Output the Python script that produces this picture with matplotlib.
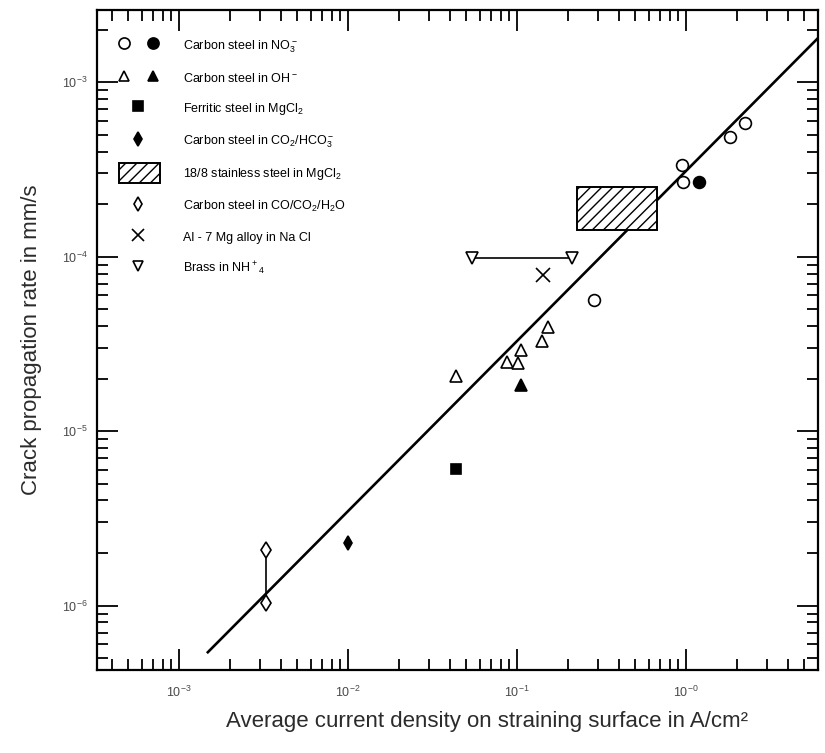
import numpy as np
import matplotlib.pyplot as plt
from matplotlib.lines import Line2D
from matplotlib.patches import Patch, Rectangle
from matplotlib.legend_handler import HandlerTuple, HandlerPatch
from matplotlib.ticker import FixedLocator, FixedFormatter, LogLocator, NullFormatter

plt.rcParams['mathtext.default'] = 'regular'
NARROW = ['Liberation Sans Narrow', 'Liberation Sans', 'DejaVu Sans']

# carbon steel in NO3- (open and filled circles)
no3_open_x = [0.95, 0.96, 1.82, 2.23, 0.286]
no3_open_y = [3.34e-4, 2.67e-4, 4.84e-4, 5.82e-4, 5.63e-5]
no3_fill_x = [1.19]
no3_fill_y = [2.67e-4]

# carbon steel in OH-
oh_open_x = [0.0435, 0.0873, 0.1014, 0.1057, 0.1406, 0.1525]
oh_open_y = [2.07e-5, 2.48e-5, 2.45e-5, 2.91e-5, 3.28e-5, 3.94e-5]
oh_fill_x = [0.1057]
oh_fill_y = [1.84e-5]

# ferritic steel in MgCl2
ferr_x = [0.0435]
ferr_y = [6.05e-6]

# carbon steel in CO2/HCO3-
hco3_x = [0.0100]
hco3_y = [2.28e-6]

# 18/8 stainless steel in MgCl2 (range box)
ss_x = [0.226, 0.673]
ss_y = [1.42e-4, 2.50e-4]

# carbon steel in CO/CO2/H2O (range)
co_x = [0.00327, 0.00327]
co_y = [2.08e-6, 1.03e-6]

# Al - 7 Mg alloy in NaCl
al_x = [0.1425]
al_y = [7.83e-5]

# brass in NH4+ (range)
brass_x = [0.0542, 0.211]
brass_y = [9.8e-5, 9.8e-5]

# overall trend line
fit_x = [1.48e-3, 6.04]
fit_y = [5.4e-7, 1.79e-3]

xticks = [1e-3, 1e-2, 1e-1, 1e0]
xticklabels = ['$10^{-3}$', '$10^{-2}$', '$10^{-1}$', '$10^{-0}$']
yticks = [1e-6, 1e-5, 1e-4, 1e-3]
yticklabels = ['$10^{-6}$', '$10^{-5}$', '$10^{-4}$', '$10^{-3}$']

legend_labels = [
    'Carbon steel in $NO_3^-$',
    'Carbon steel in OH$^-$',
    'Ferritic steel in MgCl$_2$',
    'Carbon steel in CO$_2$/HCO$_3^-$',
    '18/8 stainless steel in MgCl$_2$',
    'Carbon steel in CO/CO$_2$/H$_2$O',
    'Al - 7 Mg alloy in Na Cl',
    'Brass in NH$^+$$_4$',
]

fig = plt.figure(figsize=(8.25, 7.53), dpi=100)
ax = fig.add_axes([0.1176, 0.1102, 0.874, 0.8765])
ax.set_xscale('log')
ax.set_yscale('log')
ax.set_xlim(3.27e-4, 6.04)
ax.set_ylim(4.27e-7, 2.59e-3)

ax.plot(fit_x, fit_y, color='black', lw=1.9, zorder=2)

ax.add_patch(Rectangle((ss_x[0], ss_y[0]), ss_x[1] - ss_x[0], ss_y[1] - ss_y[0],
                       facecolor='white', edgecolor='black', lw=1.4,
                       hatch='///', zorder=3))

mk = dict(ls='none', mec='black', mew=1.2, zorder=4)
ax.plot(no3_open_x, no3_open_y, marker='o', ms=8.5, mfc='white', **mk)
ax.plot(no3_fill_x, no3_fill_y, marker='o', ms=8.5, mfc='black', **mk)
ax.plot(oh_open_x, oh_open_y, marker='^', ms=8, mfc='white', **mk)
ax.plot(oh_fill_x, oh_fill_y, marker='^', ms=8, mfc='black', **mk)
ax.plot(ferr_x, ferr_y, marker='s', ms=7.5, mfc='black', **mk)
ax.plot(hco3_x, hco3_y, marker='d', ms=7.5, mfc='black', **mk)
ax.plot(co_x, co_y, color='black', lw=1.2, zorder=3)
ax.plot(co_x, co_y, marker='d', ms=8, mfc='white', **mk)
ax.plot(al_x, al_y, marker='x', ms=10, **mk)
ax.plot(brass_x, brass_y, color='black', lw=1.2, zorder=3)
ax.plot(brass_x, brass_y, marker='v', ms=8, mfc='white', **mk)

# axes styling
for s in ax.spines.values():
    s.set_linewidth(1.6)
ax.xaxis.set_major_locator(FixedLocator(xticks))
ax.xaxis.set_major_formatter(FixedFormatter(xticklabels))
ax.yaxis.set_major_locator(FixedLocator(yticks))
ax.yaxis.set_major_formatter(FixedFormatter(yticklabels))
ax.xaxis.set_minor_locator(LogLocator(base=10, subs=np.arange(2, 10), numticks=20))
ax.yaxis.set_minor_locator(LogLocator(base=10, subs=np.arange(2, 10), numticks=20))
ax.xaxis.set_minor_formatter(NullFormatter())
ax.yaxis.set_minor_formatter(NullFormatter())
ax.tick_params(which='both', direction='in', top=True, right=True, width=1.3,
               colors='black', labelcolor='#4a4a4a', labelsize=9)
ax.tick_params(which='major', length=15)
ax.tick_params(which='minor', length=8)
ax.tick_params(axis='x', which='major', pad=11)
ax.tick_params(axis='y', which='major', pad=7)
for lab in ax.get_xticklabels() + ax.get_yticklabels():
    lab.set_family(NARROW)

ax.set_xlabel('Average current density on straining surface in A/cm²',
              fontsize=16, color='#2b2b2b', family='Liberation Sans')
ax.xaxis.set_label_coords(0.541, -0.062)
ax.set_ylabel('Crack propagation rate in mm/s', fontsize=16, color='#2b2b2b',
              family='Liberation Sans')
ax.yaxis.set_label_coords(-0.076, 0.5)

# legend
def m(marker, fill, ms):
    return Line2D([], [], ls='none', marker=marker, ms=ms, mfc=fill,
                  mec='black', mew=1.2)

def box_patch(legend, orig_handle, xdescent, ydescent, width, height, fontsize):
    return Rectangle((-xdescent + 5, -ydescent - 2), width - 8, height + 4)

handles = [
    (m('o', 'white', 8), m('o', 'black', 8)),
    (m('^', 'white', 7.5), m('^', 'black', 7.5)),
    m('s', 'black', 7),
    m('d', 'black', 7.5),
    Patch(facecolor='white', edgecolor='black', hatch='///', lw=1.4),
    m('d', 'white', 7.5),
    m('x', 'none', 9),
    m('v', 'white', 7.5),
]
ax.legend(handles, legend_labels, loc='upper left', bbox_to_anchor=(0.021, 0.958),
          frameon=False, borderpad=0, borderaxespad=0, handlelength=4.2,
          handleheight=1.4, handletextpad=1.5, labelspacing=1.27,
          prop={'family': NARROW, 'size': 9},
          handler_map={tuple: HandlerTuple(ndivide=None, pad=0.4),
                       Patch: HandlerPatch(patch_func=box_patch)})

fig.savefig('out.png', dpi=100)
